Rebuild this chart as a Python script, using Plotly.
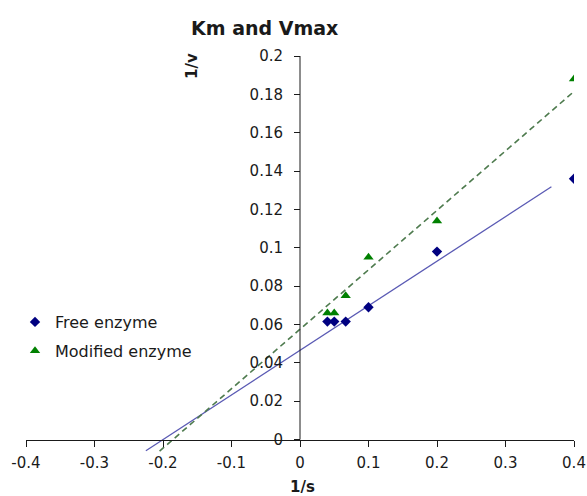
import plotly.graph_objects as go

# ---- data ----
s_inv = [0.04, 0.05, 0.0667, 0.1, 0.2, 0.4]            # 1/s
free_v_inv = [0.0615, 0.0615, 0.0615, 0.069, 0.098, 0.136]   # 1/v, free enzyme
mod_v_inv = [0.066, 0.066, 0.075, 0.095, 0.114, 0.188]       # 1/v, modified enzyme

# linear trendlines as drawn in the reference (slope, intercept, x extent)
free_fit_slope, free_fit_intercept = 0.2325, 0.0465
free_fit_x = [-0.225, 0.367]
mod_fit_slope, mod_fit_intercept = 0.31, 0.0575
mod_fit_x = [-0.205, 0.4]

x_tickvals = [-0.4, -0.3, -0.2, -0.1, 0, 0.1, 0.2, 0.3, 0.4]
x_ticktext = ["-0.4", "-0.3", "-0.2", "-0.1", "0", "0.1", "0.2", "0.3", "0.4"]
y_tickvals = [0, 0.02, 0.04, 0.06, 0.08, 0.1, 0.12, 0.14, 0.16, 0.18, 0.2]
y_ticktext = ["0", "0.02", "0.04", "0.06", "0.08", "0.1", "0.12", "0.14", "0.16", "0.18", "0.2"]

FONT = "DejaVu Sans"
X_RANGE = [-0.4, 0.4]
Y_RANGE = [-0.0065, 0.2]

free_fit_y = [free_fit_slope * x + free_fit_intercept for x in free_fit_x]
mod_fit_y = [mod_fit_slope * x + mod_fit_intercept for x in mod_fit_x]

fig = go.Figure()

fig.add_trace(go.Scatter(
    x=free_fit_x, y=free_fit_y, mode="lines",
    line=dict(color="#5a5ab4", width=1.3),
    showlegend=False, hoverinfo="skip"))
fig.add_trace(go.Scatter(
    x=mod_fit_x, y=mod_fit_y, mode="lines",
    line=dict(color="#4d7a4d", width=1.6, dash="6px,4px"),
    showlegend=False, hoverinfo="skip"))

fig.add_trace(go.Scatter(
    x=s_inv, y=free_v_inv, mode="markers", name="Free enzyme",
    legendgroup="a",
    marker=dict(symbol="diamond", size=8, color="#000080")))
fig.add_trace(go.Scatter(
    x=s_inv, y=mod_v_inv, mode="markers", name="Modified enzyme",
    legendgroup="b",
    marker=dict(symbol="triangle-up", size=9, color="#008000")))

# position of the zero lines inside the plot area (paper fractions)
x_axis_pos = (0 - Y_RANGE[0]) / (Y_RANGE[1] - Y_RANGE[0])
y_axis_pos = (0 - X_RANGE[0]) / (X_RANGE[1] - X_RANGE[0])

L, R, T, B = 26, 13, 56, 44
W, H = 587, 496
PW, PH = W - L - R, H - T - B


def px_x(px):
    return (px - L) / PW


def px_y(py):
    return (H - B - py) / PH


fig.update_layout(
    width=W, height=H,
    margin=dict(l=L, r=R, t=T, b=B, autoexpand=False),
    paper_bgcolor="white", plot_bgcolor="white",
    font=dict(family=FONT, size=15, color="#1a1a1a"),
    showlegend=True,
    legend=dict(x=px_x(15), y=px_y(305), xanchor="left", yanchor="top",
                font=dict(family=FONT, size=16, color="#1a1a1a"),
                tracegroupgap=5, bgcolor="rgba(0,0,0,0)"),
    xaxis=dict(range=X_RANGE, anchor="free", position=x_axis_pos,
               automargin=False, ticklabeloverflow="allow",
               showgrid=False, zeroline=False,
               showline=True, linecolor="#1a1a1a", linewidth=1,
               ticks="outside", ticklen=6, tickcolor="#1a1a1a",
               tickvals=x_tickvals, ticktext=x_ticktext,
               ticklabelstandoff=3,
               tickfont=dict(family=FONT, size=15)),
    yaxis=dict(range=Y_RANGE, anchor="free", position=y_axis_pos,
               automargin=False,
               showgrid=False, zeroline=False, showline=False,
               ticks="outside", ticklen=6, tickcolor="#1a1a1a",
               tickvals=y_tickvals, ticktext=y_ticktext,
               ticklabelstandoff=8,
               tickfont=dict(family=FONT, size=15)),
    shapes=[dict(type="line", xref="x", yref="y", x0=0, x1=0,
                 y0=0, y1=Y_RANGE[1], line=dict(color="#1a1a1a", width=1))],
    annotations=[
        dict(text="<b>Km and Vmax</b>", xref="paper", yref="paper",
             x=px_x(264), y=px_y(28), xanchor="center", yanchor="middle",
             showarrow=False, font=dict(family=FONT, size=19, color="#1a1a1a")),
        dict(text="<b>1/s</b>", xref="paper", yref="paper",
             x=px_x(302), y=px_y(487), xanchor="center", yanchor="middle",
             showarrow=False, font=dict(family=FONT, size=15, color="#1a1a1a")),
        dict(text="<b>1/v</b>", xref="paper", yref="paper", textangle=-90,
             x=px_x(192), y=px_y(66), xanchor="center", yanchor="middle",
             showarrow=False, font=dict(family=FONT, size=15, color="#1a1a1a")),
    ],
)

fig.write_html("out.html")
